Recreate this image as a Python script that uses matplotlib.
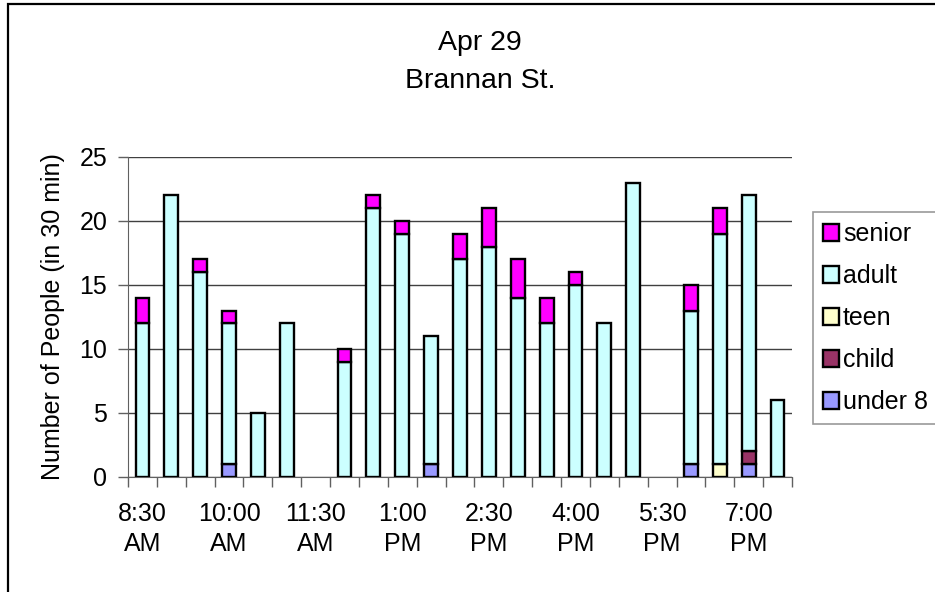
import matplotlib
matplotlib.use("Agg")
import matplotlib.pyplot as plt
from matplotlib.patches import Rectangle
import numpy as np

plt.rcParams['font.family'] = ['Liberation Sans', 'DejaVu Sans']

times = ["8:30 AM", "9:00 AM", "9:30 AM", "10:00 AM", "10:30 AM", "11:00 AM",
         "11:30 AM", "12:00 PM", "12:30 PM", "1:00 PM", "1:30 PM", "2:00 PM",
         "2:30 PM", "3:00 PM", "3:30 PM", "4:00 PM", "4:30 PM", "5:00 PM",
         "5:30 PM", "6:00 PM", "6:30 PM", "7:00 PM", "7:30 PM"]
under8 = [0, 0, 0, 1, 0, 0, 0, 0, 0, 0, 1, 0, 0, 0, 0, 0, 0, 0, 0, 1, 0, 1, 0]
child  = [0, 0, 0, 0, 0, 0, 0, 0, 0, 0, 0, 0, 0, 0, 0, 0, 0, 0, 0, 0, 0, 1, 0]
teen   = [0, 0, 0, 0, 0, 0, 0, 0, 0, 0, 0, 0, 0, 0, 0, 0, 0, 0, 0, 0, 1, 0, 0]
adult  = [12, 22, 16, 11, 5, 12, 0, 9, 21, 19, 10, 17, 18, 14, 12, 15, 12, 23, 0, 12, 18, 20, 6]
senior = [2, 0, 1, 1, 0, 0, 0, 1, 1, 1, 0, 2, 3, 3, 2, 1, 0, 0, 0, 2, 2, 0, 0]

tick_labels = ["8:30\nAM", "10:00\nAM", "11:30\nAM", "1:00\nPM",
               "2:30\nPM", "4:00\nPM", "5:30\nPM", "7:00\nPM"]
tick_every = 3

series = [("under 8", under8, "#9999FF"),
          ("child", child, "#993366"),
          ("teen", teen, "#FFFFCC"),
          ("adult", adult, "#CCFFFF"),
          ("senior", senior, "#FF00FF")]

fig = plt.figure(figsize=(9.35, 5.92), dpi=100)
ax = fig.add_axes([128/935, 1-477/592, (792-128)/935, (477-157)/592])

x = np.arange(len(times))
bottom = np.zeros(len(times))
handles = {}
for name, vals, col in series:
    v = np.array(vals, dtype=float)
    mask = v > 0
    b = ax.bar(x[mask], v[mask], width=0.48, bottom=bottom[mask], color=col,
               edgecolor='black', linewidth=1.7, zorder=3, label=name)
    handles[name] = b
    bottom += v

ax.set_xlim(-0.5, len(times) - 0.5)
ax.set_ylim(0, 25)
ax.set_yticks([0, 5, 10, 15, 20, 25])
ax.yaxis.grid(True, color='#404040', linewidth=1.0, zorder=0)
ax.set_axisbelow(True)

ax.set_xticks(x[::tick_every])
ax.set_xticklabels(tick_labels, fontsize=18, linespacing=1.3)
ax.set_xticks(np.arange(-0.5, len(times), 1.0), minor=True)
ax.tick_params(axis='x', which='major', length=0, pad=18)
ax.tick_params(axis='x', which='minor', length=7, color='#606060', width=1)
ax.tick_params(axis='y', length=7, color='#606060', width=1, pad=8, labelsize=18)

for s in ['top', 'right']:
    ax.spines[s].set_visible(False)
ax.spines['left'].set_color('#606060')
ax.spines['bottom'].set_color('#606060')

ax.set_ylabel("Number of People (in 30 min)", fontsize=18, labelpad=10)

fig.text(480/935, 1-50/592, "Apr 29", ha='center', va='baseline', fontsize=20.5)
fig.text(480/935, 1-88/592, "Brannan St.", ha='center', va='baseline', fontsize=20.5)

order = ["senior", "adult", "teen", "child", "under 8"]
leg = fig.legend([handles[n] for n in order], order, loc='upper left',
                 bbox_to_anchor=(813/935, 1-212/592), fontsize=18,
                 frameon=True, fancybox=False, edgecolor='#808080',
                 handlelength=0.65, handleheight=0.65, handletextpad=0.15,
                 labelspacing=0.72, borderpad=0.4, borderaxespad=0)
leg.get_frame().set_linewidth(1.2)

fig.patches.append(Rectangle((8/935, -0.1), 1.2, 1.1 - 4/592,
                             transform=fig.transFigure, fill=False,
                             edgecolor='black', linewidth=1.6, zorder=10))

fig.savefig("out.png", dpi=100)
